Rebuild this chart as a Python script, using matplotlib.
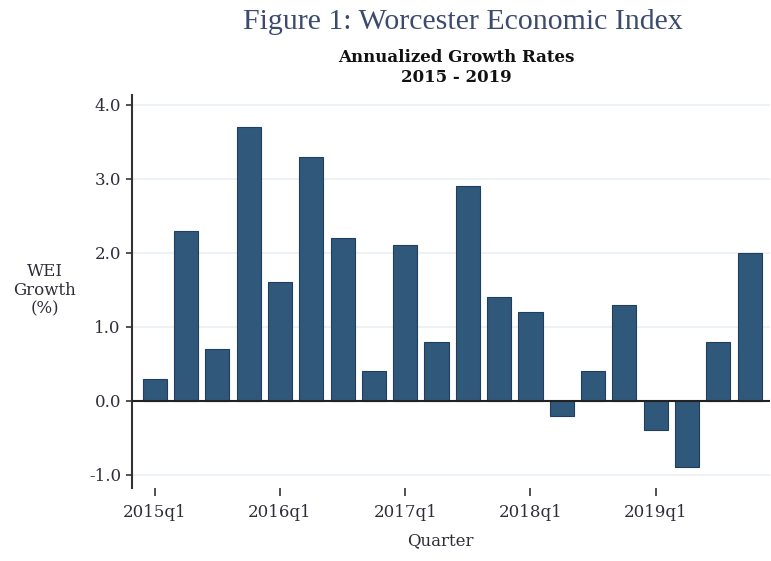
import matplotlib.pyplot as plt
import numpy as np

plt.switch_backend("agg")

# quarterly annualized WEI growth, 2015q1 - 2019q4
quarters = [f"{y}q{q}" for y in range(2015, 2020) for q in range(1, 5)]
growth = [0.3, 2.3, 0.7, 3.7, 1.6, 3.3, 2.2, 0.4, 2.1, 0.8,
          2.9, 1.4, 1.2, -0.2, 0.4, 1.3, -0.4, -0.9, 0.8, 2.0]
tick_labels = ["2015q1", "2016q1", "2017q1", "2018q1", "2019q1"]
y_ticks = [-1.0, 0.0, 1.0, 2.0, 3.0, 4.0]

serif = ["DejaVu Serif"]
title_font = ["Liberation Serif", "DejaVu Serif"]
text_col = "#2e2e3a"

fig = plt.figure(figsize=(7.71, 5.61), dpi=100)
ax = fig.add_axes([0.1712, 0.1301, 0.8275, 0.7006])

x = np.arange(len(quarters))
ax.bar(x, growth, width=0.77, color="#30587b", edgecolor="#1f3e60",
       linewidth=0.8, zorder=3)
ax.axhline(0, color="#222222", linewidth=1.5, zorder=4)

ax.set_ylim(-1.18, 4.135)
ax.set_xlim(-0.725, 19.65)
ax.set_yticks(y_ticks)
ax.set_yticklabels([f"{v:.1f}" for v in y_ticks], fontfamily=serif,
                   fontsize=12, color=text_col)
ax.grid(axis="y", color="#eaf0f5", linewidth=1.2, zorder=0)

tick_pos = [quarters.index(t) for t in tick_labels]
ax.set_xticks(tick_pos)
ax.set_xticklabels(tick_labels, fontfamily=serif, fontsize=12,
                   color=text_col)
ax.tick_params(axis="x", length=5.5, width=1.2, color="#333333", pad=6)
ax.tick_params(axis="y", length=4.5, width=1.2, color="#333333", pad=3.5)

for s in ["top", "right", "bottom"]:
    ax.spines[s].set_visible(False)
ax.spines["left"].set_color("#333333")
ax.spines["left"].set_linewidth(1.5)

fig.text(0.60, 0.961, "Figure 1: Worcester Economic Index", ha="center",
         va="center", fontsize=21.5, color="#3b4a6e", fontfamily=title_font)
fig.text(0.592, 0.898, "Annualized Growth Rates", ha="center", va="center",
         fontsize=12, color="#111111", fontfamily=serif, fontweight="bold")
fig.text(0.592, 0.862, "2015 - 2019", ha="center", va="center",
         fontsize=12, color="#111111", fontfamily=serif, fontweight="bold")
fig.text(0.058, 0.483, "WEI\nGrowth\n(%)", ha="center", va="center",
         fontsize=12, color=text_col, fontfamily=serif, linespacing=1.12)
fig.text(0.571, 0.021, "Quarter", ha="center", va="bottom",
         fontsize=12, color=text_col, fontfamily=serif)

fig.savefig("out.png", dpi=100)
